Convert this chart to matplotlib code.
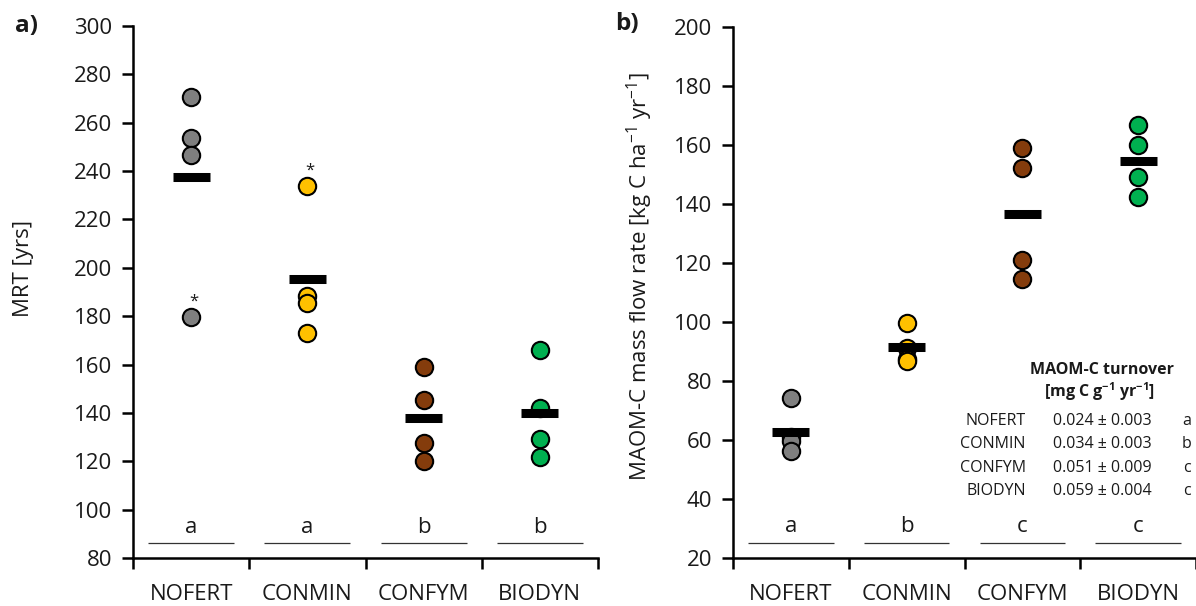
import numpy as np
import matplotlib
matplotlib.use("Agg")
import matplotlib.pyplot as plt
from matplotlib.ticker import FixedLocator, NullFormatter

plt.rcParams['font.family'] = ['Open Sans', 'DejaVu Sans']
plt.rcParams['mathtext.fontset'] = 'custom'
plt.rcParams['mathtext.rm'] = 'Open Sans'
plt.rcParams['mathtext.bf'] = 'Open Sans:bold'
plt.rcParams['text.color'] = '#1a1a1a'

treatments = ["NOFERT", "CONMIN", "CONFYM", "BIODYN"]
colors = ["#7f7f7f", "#ffc000", "#843c0c", "#00b050"]

# a) MRT [yrs], four replicates per treatment
mrt = [[270.8, 253.8, 246.5, 179.7],
       [233.8, 188.5, 185.4, 173.0],
       [159.0, 145.4, 127.5, 120.2],
       [166.2, 141.9, 129.3, 121.8]]
mrt_letters = ["a", "a", "b", "b"]
mrt_outliers = [(0, 179.7), (1, 233.8)]

# b) MAOM-C mass flow rate [kg C ha-1 yr-1]
flow = [[74.1, 61.0, 59.5, 56.3],
        [99.8, 91.2, 87.6, 86.9],
        [158.9, 152.1, 121.0, 114.5],
        [166.8, 160.0, 149.3, 142.5]]
flow_letters = ["a", "b", "c", "c"]

turnover_vals = ["0.024 \u00b1 0.003", "0.034 \u00b1 0.003",
                 "0.051 \u00b1 0.009", "0.059 \u00b1 0.004"]
turnover_letters = ["a", "b", "c", "c"]

FS = 16

fig = plt.figure(figsize=(11.96, 6.06), dpi=100)
axa = fig.add_axes([133/1196, 1-558/606, 465/1196, 532/606])
axb = fig.add_axes([733/1196, 1-558/606, 463/1196, 531/606])


def panel(ax, data, letters, ylim, step, letter_y, line_y):
    for i, vals in enumerate(data):
        x = i + 0.5
        ax.plot([x]*len(vals), vals, 'o', ms=12.5, mfc=colors[i], mec='black',
                mew=1.5, zorder=3, clip_on=False)
        ax.hlines(np.mean(vals), x-0.16, x+0.16, color='black', lw=6.5, zorder=4)
        ax.hlines(line_y, x-0.37, x+0.37, color='#333333', lw=0.9)
        ax.text(x, letter_y, letters[i], ha='center', va='center', fontsize=FS)
    ax.set_xlim(0, 4)
    ax.set_ylim(*ylim)
    ax.set_yticks(np.arange(ylim[0], ylim[1]+1, step))
    ax.xaxis.set_major_locator(FixedLocator([0, 1, 2, 3, 4]))
    ax.xaxis.set_major_formatter(NullFormatter())
    ax.xaxis.set_minor_locator(FixedLocator([0.5, 1.5, 2.5, 3.5]))
    ax.set_xticklabels(treatments, minor=True)
    ax.tick_params(axis='x', which='minor', length=0, pad=19, labelsize=FS,
                   labelcolor='#1a1a1a')
    ax.tick_params(axis='x', which='major', length=8, width=1.8, direction='out')
    ax.tick_params(axis='y', length=8, width=1.8, labelsize=FS, pad=7,
                   labelcolor='#1a1a1a')
    for s in ['top', 'right']:
        ax.spines[s].set_visible(False)
    for s in ['left', 'bottom']:
        ax.spines[s].set_linewidth(1.8)


panel(axa, mrt, mrt_letters, (80, 300), 20, 92.5, 86.3)
panel(axb, flow, flow_letters, (20, 200), 20, 30.6, 25.2)

for i, v in mrt_outliers:
    axa.text(i + 0.52, v + 6.2, "*", ha='center', va='center', fontsize=12)

axa.text(-0.235, 0.545, "MRT [yrs]", rotation=90, ha='center', va='center',
         fontsize=FS, transform=axa.transAxes)
axb.text(-0.2, 0.53, "MAOM-C mass flow rate [kg C ha$^{-1}$ yr$^{-1}$]",
         rotation=90, ha='center', va='center', fontsize=FS, transform=axb.transAxes)

fig.text(27/1196, 1-26/606, "a)", fontsize=17.5, fontweight='bold', ha='center', va='center')
fig.text(627/1196, 1-24/606, "b)", fontsize=17.5, fontweight='bold', ha='center', va='center')

# turnover table inside panel b
axb.text(3.185, 83.7, "MAOM-C turnover", ha='center', va='center', fontsize=11.5,
         fontweight='bold')
axb.text(3.17, 76.4, r"[mg C g$\mathbf{^{-1}}$ yr$\mathbf{^{-1}}$]", ha='center',
         va='center', fontsize=11.5, fontweight='bold')
row_y = [66.4, 58.5, 50.6, 42.7]
for k in range(4):
    axb.text(2.53, row_y[k], treatments[k], ha='right', va='center', fontsize=11.5)
    axb.text(2.765, row_y[k], turnover_vals[k], ha='left', va='center', fontsize=11.5)
    axb.text(3.92, row_y[k], turnover_letters[k], ha='center', va='center', fontsize=11.5)

fig.savefig("out.png", dpi=100)
